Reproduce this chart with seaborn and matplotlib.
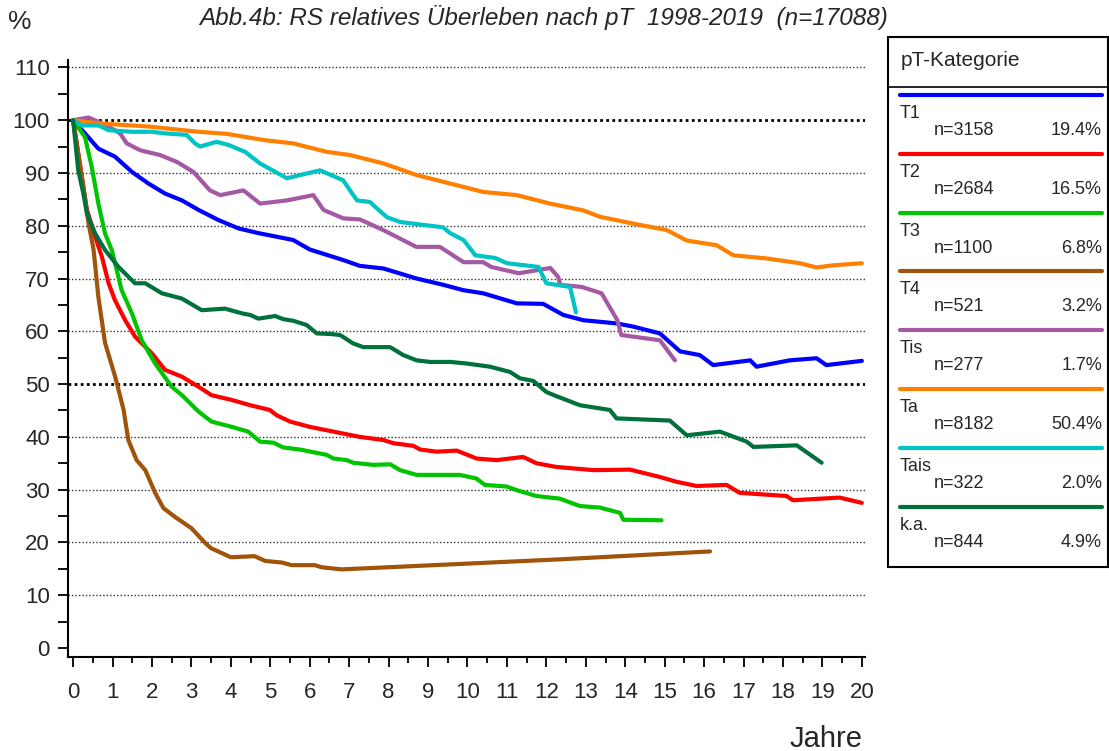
import matplotlib
matplotlib.use("Agg")
import matplotlib.pyplot as plt
from matplotlib.lines import Line2D
from matplotlib.patches import Rectangle
from matplotlib.ticker import MultipleLocator
import pandas as pd
import seaborn as sns

# pT categories and legend info
categories = ["T1", "T2", "T3", "T4", "Tis", "Ta", "Tais", "k.a."]
n_cases = [3158, 2684, 1100, 521, 277, 8182, 322, 844]
pct_cases = ["19.4%", "16.5%", "6.8%", "3.2%", "1.7%", "50.4%", "2.0%", "4.9%"]
colors = ["#0000ff", "#ff0000", "#00c400", "#a0530a", "#a35aa3", "#ff8000", "#00c4c4", "#00703c"]

# relative survival curves (years, %)
t1_t = [0, 0.3, 0.64, 1.06, 1.49, 1.91, 2.33, 2.76, 3.18, 3.68, 4.19, 4.7, 5.58, 6.0, 6.85, 7.27, 7.87, 8.71,
        9.39, 9.89, 10.4, 11.25, 11.92, 12.43, 12.94, 13.78, 14.2, 14.88, 15.39, 15.89, 16.23, 17.17, 17.33,
        18.17, 18.85, 19.1, 20.0]
t1_v = [100, 97.5, 94.6, 93.1, 90.2, 88.0, 86.1, 84.8, 83.0, 81.1, 79.5, 78.6, 77.3, 75.5, 73.5, 72.4, 71.9, 70.0,
        68.8, 67.8, 67.2, 65.3, 65.2, 63.1, 62.1, 61.5, 60.9, 59.6, 56.2, 55.5, 53.6, 54.5, 53.3,
        54.5, 54.9, 53.6, 54.4]

t2_t = [0, 0.35, 0.56, 0.73, 0.9, 1.06, 1.32, 1.57, 2.0, 2.33, 2.76, 3.18, 3.51, 4.02, 4.49, 4.99, 5.16, 5.5,
        6.0, 6.6, 7.27, 7.87, 8.12, 8.63, 8.8, 9.22, 9.73, 10.23, 10.74, 11.41, 11.75, 12.26, 13.19, 14.12,
        14.88, 15.3, 15.81, 16.57, 16.9, 18.09, 18.25, 19.44, 20.0]
t2_v = [100, 83.0, 77.9, 74.1, 69.1, 65.9, 62.1, 59.0, 55.8, 52.7, 51.4, 49.5, 47.9, 47.0, 46.0, 45.1, 44.1, 42.9,
        41.9, 41.0, 40.0, 39.4, 38.8, 38.3, 37.6, 37.2, 37.4, 35.9, 35.6, 36.2, 35.0, 34.3, 33.7, 33.8,
        32.4, 31.5, 30.7, 30.9, 29.4, 28.8, 28.0, 28.5, 27.5]

t3_t = [0, 0.3, 0.47, 0.64, 0.81, 0.98, 1.23, 1.49, 1.74, 2.08, 2.5, 2.76, 3.18, 3.51, 4.02, 4.44, 4.74, 5.08,
        5.33, 5.75, 6.43, 6.6, 6.94, 7.1, 7.61, 8.04, 8.29, 8.71, 9.81, 10.23, 10.44, 10.99, 11.25, 11.75,
        12.34, 12.85, 13.36, 13.87, 13.95, 14.92]
t3_v = [100, 96.8, 91.2, 84.2, 78.5, 75.4, 67.8, 63.4, 58.3, 53.9, 49.5, 47.9, 44.8, 42.9, 41.9, 41.0, 39.1, 38.9,
        38.0, 37.6, 36.6, 35.9, 35.6, 35.1, 34.7, 34.8, 33.7, 32.8, 32.8, 32.1, 30.9, 30.6, 29.9, 28.8,
        28.3, 26.9, 26.6, 25.6, 24.3, 24.2]

t4_t = [0, 0.22, 0.39, 0.52, 0.64, 0.81, 1.07, 1.28, 1.4, 1.61, 1.83, 2.08, 2.29, 2.59, 3.0, 3.35, 3.5, 4.0,
        4.6, 4.87, 5.29, 5.54, 6.13, 6.3, 6.81, 7.4, 12.34, 16.15]
t4_v = [100, 89.3, 80.5, 75.4, 66.5, 57.8, 51.3, 45.1, 39.4, 35.6, 33.7, 29.4, 26.5, 24.8, 22.7, 19.9, 18.9, 17.2,
        17.4, 16.5, 16.2, 15.7, 15.7, 15.3, 14.9, 15.1, 16.8, 18.3]

tis_t = [0, 0.39, 0.64, 1.06, 1.19, 1.36, 1.7, 2.2, 2.63, 3.05, 3.47, 3.73, 4.32, 4.74, 5.42, 6.09, 6.35, 6.85,
         7.27, 7.86, 8.7, 9.3, 9.9, 10.4, 10.6, 11.3, 12.1, 12.3, 12.35, 12.9, 13.4, 13.8, 13.9, 14.88, 15.26]
tis_v = [100, 100.5, 99.7, 98.1, 97.5, 95.6, 94.3, 93.4, 92.1, 90.2, 86.7, 85.8, 86.7, 84.2, 84.8, 85.8, 83.0, 81.4,
         81.2, 79.2, 76.0, 76.0, 73.1, 73.1, 72.2, 71.0, 72.0, 70.3, 68.8, 68.4, 67.2, 62.1, 59.3, 58.3, 54.5]

ta_t = [0, 0.64, 1.91, 3.18, 3.9, 4.87, 5.58, 6.43, 7.02, 7.87, 8.71, 9.56, 10.4, 11.25, 12.09, 12.94, 13.36,
        14.2, 15.05, 15.56, 16.32, 16.74, 17.59, 18.43, 18.85, 19.27, 20.0]
ta_v = [100, 99.4, 98.8, 97.8, 97.4, 96.2, 95.6, 94.0, 93.4, 91.8, 89.6, 88.0, 86.4, 85.8, 84.2, 82.9, 81.7,
        80.4, 79.2, 77.2, 76.3, 74.4, 73.8, 72.9, 72.1, 72.5, 72.9]

tais_t = [0, 0.22, 0.64, 0.9, 1.49, 2.0, 2.33, 2.88, 3.09, 3.22, 3.35, 3.64, 3.94, 4.36, 4.74, 5.42, 6.26, 6.85,
          7.02, 7.2, 7.53, 7.7, 7.96, 8.3, 9.38, 9.56, 9.9, 10.2, 10.7, 11.0, 11.8, 12.0, 12.6, 12.75]
tais_v = [100, 99.0, 99.0, 98.1, 97.8, 97.8, 97.5, 97.2, 95.6, 95.0, 95.3, 95.9, 95.3, 94.0, 91.8, 89.0, 90.5, 88.6,
          86.7, 84.8, 84.5, 83.3, 81.6, 80.7, 79.7, 78.6, 77.3, 74.4, 73.9, 72.9, 72.2, 69.1, 68.4, 63.6]

ka_t = [0, 0.13, 0.26, 0.35, 0.56, 0.81, 1.15, 1.57, 1.83, 2.25, 2.76, 3.26, 3.85, 4.28, 4.49, 4.7, 5.12, 5.33,
        5.58, 5.92, 6.18, 6.51, 6.77, 7.1, 7.36, 8.04, 8.37, 8.71, 9.05, 9.56, 9.98, 10.57, 11.08, 11.33, 11.67,
        12.0, 12.26, 12.85, 13.61, 13.78, 15.13, 15.56, 16.4, 17.08, 17.25, 18.35, 18.98]
ka_v = [100, 90.5, 86.1, 82.3, 78.5, 75.4, 72.2, 69.1, 69.1, 67.2, 66.2, 64.0, 64.3, 63.4, 63.1, 62.4, 62.9, 62.3,
        62.0, 61.2, 59.6, 59.5, 59.3, 57.7, 57.0, 57.0, 55.5, 54.5, 54.2, 54.2, 53.9, 53.3, 52.3, 51.1, 50.6,
        48.5, 47.7, 46.0, 45.1, 43.5, 43.1, 40.3, 41.0, 39.1, 38.1, 38.4, 35.1]

curves = [(t1_t, t1_v), (t2_t, t2_v), (t3_t, t3_v), (t4_t, t4_v),
          (tis_t, tis_v), (ta_t, ta_v), (tais_t, tais_v), (ka_t, ka_v)]

rows = []
for cat, (ts, vs) in zip(categories, curves):
    for t, v in zip(ts, vs):
        rows.append({"Jahre": t, "RS": v, "pT": cat})
df = pd.DataFrame(rows)

sns.set_style("white")
plt.rcParams["font.family"] = ["Liberation Sans", "DejaVu Sans"]

W, H = 1109, 751
fig = plt.figure(figsize=(W / 100, H / 100), dpi=100)


def fx(x):
    return x / W


def fy(y):
    return 1 - y / H


ax = fig.add_axes([fx(68), fy(657), fx(865) - fx(68), fy(60) - fy(657)])

# dotted grid lines
for g in range(10, 111, 10):
    if g in (50, 100):
        ax.axhline(g, color="black", lw=2.0, ls=(0, (1, 1.2)), zorder=1)
    else:
        ax.axhline(g, color="#333333", lw=1.0, ls=(0, (1, 1.5)), zorder=1)

sns.lineplot(data=df, x="Jahre", y="RS", hue="pT", hue_order=categories,
             palette=colors, estimator=None, sort=False, lw=3.0,
             legend=False, ax=ax, zorder=3)

ax.set_xlim(-0.13, 20.08)
ax.set_ylim(-1.7, 111.4)
ax.xaxis.set_major_locator(MultipleLocator(1))
ax.xaxis.set_minor_locator(MultipleLocator(0.5))
ax.yaxis.set_major_locator(MultipleLocator(10))
ax.yaxis.set_minor_locator(MultipleLocator(5))
ax.set_yticks(range(0, 111, 10))
ax.tick_params(axis="both", which="both", direction="out", color="black", width=1.3,
               bottom=True, left=True)
ax.tick_params(axis="x", which="major", length=7, labelsize=16, pad=11)
ax.tick_params(axis="x", which="minor", length=4)
ax.tick_params(axis="y", which="major", length=7, labelsize=16, pad=6)
ax.tick_params(axis="y", which="minor", length=7)
ax.set_xlabel("")
ax.set_ylabel("")
for side in ["top", "right"]:
    ax.spines[side].set_visible(False)
for side in ["left", "bottom"]:
    ax.spines[side].set_color("black")
    ax.spines[side].set_linewidth(1.5)

fig.text(fx(544), fy(18), "Abb.4b: RS relatives Überleben nach pT  1998-2019  (n=17088)",
         ha="center", va="center", fontsize=17.5, style="italic")
fig.text(fx(8), fy(22), "%", ha="left", va="center", fontsize=19)
fig.text(fx(863), fy(747), "Jahre", ha="right", va="baseline", fontsize=21)

# legend box drawn by hand
fig.add_artist(Rectangle((fx(888), fy(567)), fx(1108) - fx(888), fy(37) - fy(567),
                         transform=fig.transFigure, fill=False, ec="black", lw=1.5))
fig.add_artist(Line2D([fx(888), fx(1108)], [fy(86.5), fy(86.5)], transform=fig.transFigure,
                      color="black", lw=1.2))
fig.text(fx(901), fy(61), "pT-Kategorie", ha="left", va="center", fontsize=15)
for i, (cat, n, p, c) in enumerate(zip(categories, n_cases, pct_cases, colors)):
    y0 = 95 + i * 58.8
    fig.add_artist(Line2D([fx(900), fx(1102)], [fy(y0), fy(y0)], transform=fig.transFigure,
                          color=c, lw=3.0))
    fig.text(fx(900), fy(y0 + 23), cat, ha="left", va="baseline", fontsize=13)
    fig.text(fx(934), fy(y0 + 40), f"n={n}", ha="left", va="baseline", fontsize=13)
    fig.text(fx(1102), fy(y0 + 40), p, ha="right", va="baseline", fontsize=13)

fig.savefig("out.png", dpi=100)
